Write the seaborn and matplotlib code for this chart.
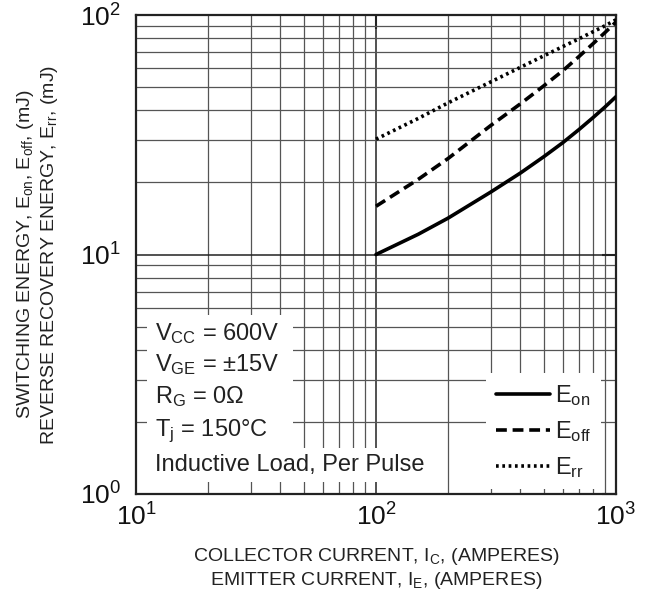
import pandas as pd
import matplotlib
matplotlib.use("Agg")
import matplotlib.pyplot as plt
import seaborn as sns
from matplotlib.patches import Rectangle

# ---------------- DATA ----------------
current = [100, 150, 200, 300, 400, 500, 600, 700, 800, 900, 1000]
e_on = [10.0, 12.15, 14.2, 18.2, 21.9, 25.6, 29.3, 33.2, 37.2, 41.3, 45.6]
e_off = [15.9, 20.6, 25.2, 34.5, 42.6, 50.6, 58.5, 67.0, 75.7, 84.5, 93.5]
e_rr = [30.3, 37.0, 43.0, 52.5, 60.5, 67.5, 73.8, 79.5, 85.0, 90.2, 95.5]

conditions = [r"V$_{CC}$ = 600V", r"V$_{GE}$ = ±15V", r"R$_G$ = 0Ω",
              r"T$_j$ = 150°C", "Inductive Load, Per Pulse"]

df = pd.DataFrame({"I": current, "Eon": e_on, "Eoff": e_off, "Err": e_rr})

# ---------------- STYLE ----------------
sns.set_theme(style="white")
plt.rcParams["font.family"] = ["Liberation Sans", "DejaVu Sans"]
plt.rcParams["mathtext.default"] = "regular"

fig = plt.figure(figsize=(6.46, 5.96), dpi=100)
ax = fig.add_axes([136 / 646, 1 - 494 / 596, 480 / 646, 479 / 596])

# ---------------- CURVES ----------------
sns.lineplot(data=df, x="I", y="Eon", ax=ax, color="black", lw=2.6,
             label=r"E$_{on}$", zorder=4)
sns.lineplot(data=df, x="I", y="Eoff", ax=ax, color="black", lw=2.6,
             linestyle=(0, (3, 1.6)), label=r"E$_{off}$", zorder=4)
sns.lineplot(data=df, x="I", y="Err", ax=ax, color="black", lw=2.6,
             linestyle=(0, (0.75, 1.0)), label=r"E$_{rr}$", zorder=4)

ax.set_xscale("log")
ax.set_yscale("log")
ax.set_xlim(10, 1000)
ax.set_ylim(1, 100)

ax.set_axisbelow(True)
ax.grid(True, which="major", color="#222222", lw=1.1)
ax.grid(True, which="minor", color="#555555", lw=0.9)
ax.minorticks_on()
ax.tick_params(which="minor", length=0)
ax.tick_params(which="major", direction="in", length=10, width=1.5,
               top=True, right=True, colors="#222222", labelcolor="#111111",
               labelsize=19)
ax.tick_params(axis="x", which="major", pad=7)
ax.tick_params(axis="y", which="major", pad=11)
for s in ax.spines.values():
    s.set_color("#222222")
    s.set_linewidth(1.6)

# white boxes behind the test conditions
ax.add_patch(Rectangle((11.1, 1.12), 45.1 - 11.1, 5.59 - 1.12, facecolor="white",
                       edgecolor="none", zorder=2))
ax.add_patch(Rectangle((11.1, 1.12), 168 - 11.1, 1.556 - 1.12, facecolor="white",
                       edgecolor="none", zorder=2))
y_pos = [0.3215, 0.2568, 0.19, 0.121, 0.048]
for txt, yy in zip(conditions, y_pos):
    ax.text(0.040, yy, txt, transform=ax.transAxes, fontsize=17,
            va="baseline", ha="left", color="#222222", zorder=5)

leg = ax.legend(loc="lower right", bbox_to_anchor=(0.968, 0.01),
                borderaxespad=0, frameon=True, fancybox=False,
                facecolor="white", edgecolor="none", framealpha=1,
                fontsize=17, handlelength=2.3, handletextpad=0.2,
                labelspacing=0.47, borderpad=0.4)
leg.set_zorder(6)
for t in leg.get_texts():
    t.set_color("#222222")

ax.set_xlabel("COLLECTOR CURRENT, I$_C$, (AMPERES)\nEMITTER CURRENT, I$_E$, (AMPERES)",
              fontsize=14, linespacing=1.2, labelpad=11, color="#222222")
ax.set_ylabel("SWITCHING ENERGY, E$_{on}$, E$_{off}$, (mJ)\nREVERSE RECOVERY ENERGY, E$_{rr}$, (mJ)",
              fontsize=14, linespacing=1.2, labelpad=14, color="#222222")

fig.savefig("out.png", dpi=100)
